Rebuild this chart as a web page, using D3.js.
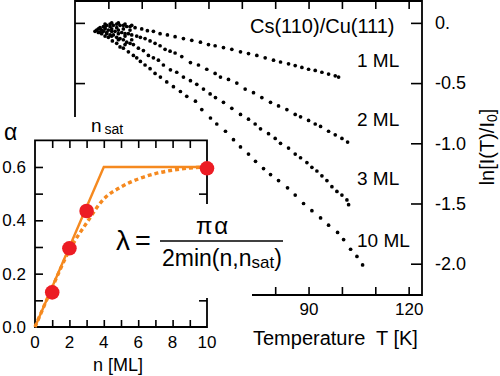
<!DOCTYPE html>
<html><head><meta charset="utf-8">
<script src="https://cdn.jsdelivr.net/npm/d3@7"></script>
<style>
body{margin:0;background:#fff;}
svg{display:block;font-family:"Liberation Sans",Arial,sans-serif;}
</style>
</head><body>
<svg id="c" width="500" height="376"></svg>
<script>
// ---------- main chart data: [T (K), ln(I/I0)] ----------
const ml1 = [[26.5,-0.06],[27.5,-0.04],[28.5,-0.03],[29,-0.01],[29.5,-0.02],[30.5,-0.01],[31,0.0],[31.5,-0.02],[32.5,-0.01],[33,0.0],[33.5,-0.02],[34.5,-0.02],[35,-0.01],[35.5,-0.03],[36.5,-0.03],[37,-0.02],[38,-0.04],[40,-0.05],[41.7,-0.065],[43.5,-0.07],[45.5,-0.09],[47.7,-0.10],[50,-0.115],[52.5,-0.13],[55,-0.145],[57.6,-0.16],[60,-0.18],[62,-0.19],[64.5,-0.205],[67,-0.22],[69.6,-0.24],[72,-0.255],[74.5,-0.27],[77,-0.29],[79.5,-0.31],[81.6,-0.325],[84,-0.34],[86,-0.355],[88,-0.37],[90,-0.385],[92,-0.395],[94,-0.41],[96,-0.425],[98,-0.44],[99,-0.45]];
const ml2 = [[27,-0.05],[28,-0.06],[29,-0.04],[30,-0.06],[30.5,-0.03],[31,-0.05],[32,-0.07],[32.5,-0.04],[33,-0.06],[34,-0.08],[34.5,-0.05],[35,-0.09],[36,-0.09],[36.5,-0.06],[37,-0.10],[38.5,-0.11],[39.6,-0.12],[41,-0.13],[42.5,-0.15],[44,-0.17],[45.5,-0.19],[47,-0.22],[48.5,-0.235],[50,-0.25],[52,-0.28],[54.6,-0.33],[57,-0.35],[59.5,-0.385],[62,-0.42],[63.6,-0.45],[66,-0.47],[68.5,-0.50],[71,-0.55],[73.5,-0.58],[76,-0.62],[78.6,-0.66],[81,-0.69],[83.5,-0.72],[86,-0.76],[87.6,-0.78],[90,-0.81],[92,-0.84],[93.6,-0.86],[96,-0.90],[98,-0.93],[100,-0.96],[101.7,-0.99]];
const ml3 = [[27.5,-0.08],[28.5,-0.07],[29,-0.05],[29.5,-0.09],[30.5,-0.10],[31,-0.07],[31.5,-0.10],[32.5,-0.12],[33,-0.09],[33.5,-0.13],[34.5,-0.14],[35,-0.11],[35.5,-0.16],[36.5,-0.17],[37,-0.14],[37.5,-0.18],[39,-0.21],[40.5,-0.23],[42,-0.27],[43.5,-0.29],[45,-0.31],[46.5,-0.35],[48.6,-0.39],[50.5,-0.41],[52.5,-0.45],[54.6,-0.48],[56.5,-0.51],[58.5,-0.55],[60.5,-0.59],[62.1,-0.62],[64.5,-0.66],[67,-0.71],[69.6,-0.76],[72,-0.80],[74,-0.84],[75.6,-0.88],[78,-0.92],[80,-0.96],[81.6,-1.00],[84,-1.04],[86,-1.09],[87.6,-1.12],[89.5,-1.16],[91,-1.20],[92.5,-1.23],[94,-1.27],[95.5,-1.31],[97,-1.36],[98.5,-1.40],[100,-1.43],[101.5,-1.47],[102,-1.51]];
const ml10 = [[26,-0.07],[27,-0.08],[27.5,-0.05],[28,-0.09],[29,-0.11],[29.5,-0.08],[30,-0.12],[31,-0.11],[31.2,-0.15],[32.5,-0.17],[33,-0.14],[33.5,-0.20],[34.5,-0.21],[35,-0.18],[36,-0.24],[37.5,-0.27],[38.5,-0.29],[39.6,-0.32],[41,-0.35],[42.5,-0.38],[44,-0.42],[45.6,-0.45],[47.5,-0.49],[49.5,-0.53],[51.6,-0.57],[53.5,-0.61],[56.1,-0.65],[58,-0.72],[60.6,-0.79],[62.5,-0.84],[65.1,-0.90],[67.5,-0.97],[69.6,-1.03],[72,-1.09],[74.1,-1.15],[76.5,-1.21],[78.6,-1.26],[81,-1.31],[83.7,-1.37],[86,-1.43],[88.5,-1.50],[91,-1.56],[93.6,-1.62],[96,-1.68],[98.7,-1.74],[100.5,-1.80],[102.6,-1.88],[104.5,-1.94],[106.2,-2.01]];
const seriesLabels = ["1 ML","2 ML","3 ML","10 ML"];
const seriesLabelLn = [-0.37,-0.86,-1.345,-1.865];
const tempTicks = [30,40,50,60,70,80,90,100,110,120];
const tempBottomTicks = [80,90,100,110,120];
const tempLabels = {90:"90",120:"120"};
const lnTicks = [0,-0.5,-1.0,-1.5,-2.0];
const lnLabels = ["0.","-0.5","-1.0","-1.5","-2.0"];
const lnLeftTicks = [0,-0.5];

// ---------- inset data ----------
const insetN = [1,2,3,10];
const insetAlpha = [0.13,0.295,0.435,0.595];
const solidN = [0,4,10];
const solidAlpha = [0,0.6,0.6];
const dotN = [0,1,2,3,4,5,6,7,8,9,10];
const dotAlpha = [0,0.148,0.288,0.39,0.48,0.525,0.555,0.575,0.588,0.596,0.6];
const insetXTickLabels = [0,2,4,6,8,10];
const insetXMinor = [1,2,3,4,5,6,7,8,9];
const insetYTickLabels = [0.0,0.2,0.4,0.6];
const insetYMinor = [0.1,0.2,0.3,0.4,0.5,0.6];

const ORANGE = "#f5891f", RED = "#ec1c24";
const svg = d3.select("#c");

// ---------- main scales ----------
const tx = d3.scaleLinear().domain([20,124]).range([75,422]);
const ly = d3.scaleLinear().domain([-2.26,0.19]).range([295,0]);

// data dots
const all = [ml1,ml2,ml3,ml10];
const gData = svg.append("g");
all.forEach(s=>{
  gData.selectAll(null).data(s).enter().append("circle")
    .attr("cx",d=>tx(d[0])).attr("cy",d=>ly(d[1])).attr("r",1.85).attr("fill","#000");
});

// series labels
svg.selectAll(".sl").data(seriesLabels).enter().append("text")
  .attr("x",357).attr("y",(d,i)=>ly(seriesLabelLn[i]))
  .attr("font-size",19).text(d=>d);
svg.append("text").attr("x",250).attr("y",33).attr("font-size",20).text("Cs(110)/Cu(111)");

// ---------- inset mask ----------
svg.append("rect").attr("x",0).attr("y",117).attr("width",206).attr("height",259).attr("fill","#fff");

// ---------- inset ----------
const nx = d3.scaleLinear().domain([0,10]).range([35,207]);
const ay = d3.scaleLinear().domain([0,0.7]).range([327,140.3]);
const gi = svg.append("g").attr("stroke-linecap","butt");

const axStyle = g=>{ g.select(".domain").remove(); g.selectAll(".tick line").attr("stroke","#000").attr("stroke-width",1.6); g.selectAll("text").attr("font-family","Liberation Sans, Arial, sans-serif").attr("fill","#000"); };

gi.append("g").attr("transform","translate(0,327)")
  .call(d3.axisBottom(nx).tickValues(insetXMinor).tickSizeInner(-7).tickSizeOuter(0).tickFormat(""))
  .call(axStyle);
gi.append("g").attr("transform","translate(0,141)")
  .call(d3.axisBottom(nx).tickValues(insetXMinor).tickSize(7).tickFormat(""))
  .call(axStyle);
gi.append("g").attr("transform","translate(35,0)")
  .call(d3.axisRight(ay).tickValues(insetYMinor).tickSize(8).tickFormat(""))
  .call(axStyle);
gi.append("g").attr("transform","translate(207,0)")
  .call(d3.axisLeft(ay).tickValues(insetYMinor).tickSize(8).tickFormat(""))
  .call(axStyle);
// inset frame
gi.append("path").attr("d",`M${nx(0)},${ay(0.7)}H${nx(10)}V${ay(0)}H${nx(0)}Z`)
  .attr("fill","none").attr("stroke","#000").attr("stroke-width",1.8);
// inset tick labels
gi.selectAll(".xl").data(insetXTickLabels).enter().append("text")
  .attr("x",d=>nx(d)).attr("y",348).attr("text-anchor","middle").attr("font-size",17).text(d=>d);
gi.selectAll(".yl").data(insetYTickLabels).enter().append("text")
  .attr("x",26).attr("y",d=>ay(d)+6).attr("text-anchor","end").attr("font-size",17).text(d=>d.toFixed(1));
gi.append("text").attr("x",118).attr("y",371).attr("text-anchor","middle").attr("font-size",18).text("n [ML]");
gi.append("text").attr("x",4).attr("y",140).attr("font-size",23).text("α");
const ns = gi.append("text").attr("x",91).attr("y",132).attr("font-size",19);
ns.append("tspan").text("n");
ns.append("tspan").attr("dx",3).attr("dy",2).attr("font-size",14).text("sat");

// lines
const lineS = d3.line().x((d,i)=>nx(solidN[i])).y(d=>ay(d));
gi.append("path").attr("d",lineS(solidAlpha)).attr("fill","none").attr("stroke",ORANGE).attr("stroke-width",2.4);
const lineD = d3.line().x((d,i)=>nx(dotN[i])).y(d=>ay(d)).curve(d3.curveMonotoneX);
gi.append("path").attr("d",lineD(dotAlpha)).attr("fill","none").attr("stroke",ORANGE)
  .attr("stroke-width",3.4).attr("stroke-dasharray","4,3");
gi.selectAll(".pt").data(insetAlpha).enter().append("circle")
  .attr("cx",(d,i)=>nx(insetN[i])).attr("cy",d=>ay(d)).attr("r",7.3).attr("fill",RED);

// ---------- formula ----------
svg.append("rect").attr("x",112).attr("y",204).attr("width",178).attr("height",94).attr("fill","#fff");
svg.append("text").attr("x",116).attr("y",250).attr("font-size",28).text("λ");
svg.append("text").attr("x",135).attr("y",250).attr("font-size",27).text("=");
svg.append("line").attr("x1",160).attr("x2",283).attr("y1",241).attr("y2",241).attr("stroke","#000").attr("stroke-width",1.6);
svg.append("text").attr("x",213).attr("y",234).attr("text-anchor","middle").attr("font-size",24).attr("letter-spacing",2).text("πα");
const den = svg.append("text").attr("x",162).attr("y",266).attr("font-size",23);
den.append("tspan").text("2min(n,n");
den.append("tspan").attr("font-size",17).attr("dy",2).text("sat");
den.append("tspan").attr("dy",-2).text(")");

// ---------- main frame & axes ----------
const gm = svg.append("g");
gm.append("path").attr("d",`M75,117V1H422V295H252`).attr("fill","none").attr("stroke","#000").attr("stroke-width",1.8);
gm.append("g").attr("transform","translate(0,1)")
  .call(d3.axisBottom(tx).tickValues(tempTicks).tickSize(8).tickFormat(""))
  .call(axStyle);
gm.append("g").attr("transform","translate(0,295)")
  .call(d3.axisBottom(tx).tickValues(tempBottomTicks).tickSizeInner(-8).tickSizeOuter(0).tickPadding(8)
    .tickFormat(d=>tempLabels[d]||""))
  .call(axStyle)
  .call(g=>g.selectAll("text").attr("font-size",17));
gm.append("g").attr("transform","translate(422,0)")
  .call(d3.axisRight(ly).tickValues(lnTicks).tickSizeInner(-11).tickSizeOuter(0).tickPadding(13)
    .tickFormat((d,i)=>lnLabels[i]))
  .call(axStyle)
  .call(g=>g.selectAll("text").attr("font-size",18));
gm.append("g").attr("transform","translate(75,0)")
  .call(d3.axisRight(ly).tickValues(lnLeftTicks).tickSize(10).tickFormat(""))
  .call(axStyle);
gm.append("text").attr("x",253).attr("y",345).attr("font-size",20).attr("xml:space","preserve")
  .style("white-space","pre").text("Temperature  T [K]");
const yt = gm.append("text").attr("transform","translate(494,147) rotate(-90)")
  .attr("text-anchor","middle").attr("font-size",20);
yt.append("tspan").text("ln[I(T)/I");
yt.append("tspan").attr("font-size",14).attr("dy",3).text("0");
yt.append("tspan").attr("dy",-3).text("]");
</script>
</body></html>
